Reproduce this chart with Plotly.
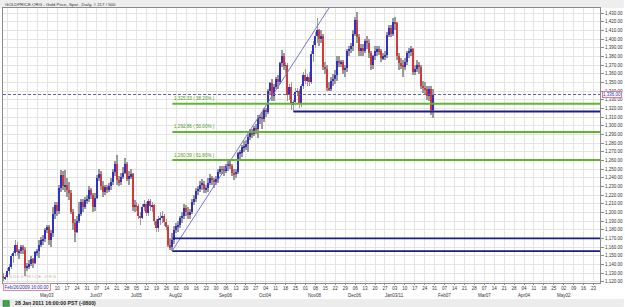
import pandas as pd
import plotly.graph_objects as go

# ---------------- data ----------------
title_text = "GOLDPRICE.ORG - Gold Price, Spot , Daily, # 217 / 500"
footer_text = "28 Jan 2011 16:00:00 PST (-0800)"
start_label = "Feb/26/2009 16:00:00"

opens = [
    1127, 1124, 1126, 1133, 1137, 1150, 1153, 1162, 1154, 1155, 1160, 1157, 1136, 1138, 1140, 1146, 1142, 1154, 1155, 1163, 1168, 1169,
    1180, 1183, 1168, 1176, 1198, 1208, 1202, 1228, 1243, 1230, 1232, 1226, 1222, 1200, 1188, 1178, 1190, 1198, 1212, 1206, 1214,
    1216, 1226, 1220, 1206, 1217, 1240, 1244, 1231, 1224, 1229, 1226, 1230, 1235, 1247, 1256, 1237, 1235, 1241, 1246, 1256, 1239, 1242,
    1244, 1206, 1209, 1207, 1196, 1194, 1206, 1210, 1199, 1213, 1207, 1208, 1190, 1182, 1192, 1194, 1196, 1189, 1183, 1162, 1160, 1168,
    1180, 1184, 1186, 1194, 1196, 1205, 1200, 1198, 1200, 1212, 1215, 1225, 1227, 1232, 1233, 1227, 1228, 1234, 1240, 1237, 1236, 1238,
    1247, 1250, 1249, 1248, 1253, 1256, 1254, 1246, 1244, 1247, 1268, 1268, 1275, 1276, 1279, 1287, 1292, 1290, 1297, 1296, 1309, 1309,
    1308, 1318, 1316, 1340, 1349, 1334, 1345, 1354, 1350, 1372, 1381, 1369, 1370, 1336, 1345, 1325, 1327, 1339, 1340, 1326, 1346,
    1358, 1352, 1356, 1350, 1383, 1393, 1404, 1410, 1400, 1404, 1368, 1366, 1344, 1342, 1352, 1354, 1358, 1375, 1372, 1373, 1364, 1367,
    1386, 1389, 1392, 1406, 1422, 1402, 1386, 1390, 1386, 1398, 1396, 1384, 1370, 1380, 1386, 1388, 1386, 1378, 1380, 1382, 1405, 1413, 1406,
    1420, 1418, 1380, 1372, 1370, 1368, 1374, 1384, 1386, 1388, 1362, 1366, 1370, 1368, 1346, 1344, 1342, 1334, 1342, 1318,
]
highs = [
    1130, 1128, 1136, 1140, 1152, 1156, 1168, 1166, 1158, 1163, 1162, 1160, 1142, 1145, 1150, 1148, 1156, 1158, 1168, 1172, 1174, 1182,
    1186, 1185, 1180, 1206, 1212, 1212, 1232, 1249, 1248, 1249, 1240, 1235, 1226, 1204, 1192, 1196, 1212, 1216, 1216, 1218, 1220,
    1230, 1228, 1222, 1222, 1243, 1250, 1248, 1236, 1232, 1232, 1234, 1240, 1250, 1259, 1266, 1242, 1246, 1252, 1263, 1258, 1248, 1250,
    1246, 1214, 1212, 1210, 1200, 1210, 1214, 1212, 1216, 1216, 1212, 1210, 1192, 1196, 1200, 1202, 1198, 1192, 1186, 1170, 1176, 1184,
    1188, 1190, 1196, 1200, 1210, 1208, 1206, 1204, 1216, 1220, 1228, 1230, 1236, 1238, 1236, 1232, 1240, 1244, 1242, 1240, 1242, 1250,
    1254, 1254, 1254, 1256, 1260, 1260, 1256, 1250, 1250, 1270, 1272, 1278, 1282, 1284, 1290, 1296, 1296, 1300, 1302, 1312, 1312, 1316,
    1320, 1320, 1342, 1350, 1354, 1348, 1356, 1358, 1374, 1387, 1384, 1374, 1372, 1348, 1350, 1330, 1344, 1344, 1342, 1348, 1362,
    1366, 1360, 1362, 1386, 1398, 1408, 1424, 1412, 1410, 1406, 1374, 1370, 1350, 1356, 1360, 1364, 1380, 1380, 1376, 1376, 1370, 1388,
    1392, 1396, 1410, 1425, 1431, 1406, 1394, 1394, 1400, 1404, 1400, 1386, 1382, 1392, 1392, 1392, 1388, 1384, 1386, 1408, 1416, 1416, 1424,
    1425, 1420, 1384, 1378, 1376, 1378, 1386, 1390, 1392, 1390, 1370, 1376, 1374, 1370, 1352, 1350, 1346, 1346, 1346, 1342,
]
lows = [
    1121, 1122, 1124, 1128, 1135, 1142, 1150, 1150, 1146, 1152, 1152, 1127, 1132, 1135, 1138, 1136, 1140, 1150, 1148, 1160, 1162, 1166,
    1176, 1163, 1160, 1172, 1192, 1196, 1198, 1224, 1226, 1224, 1218, 1214, 1198, 1180, 1166, 1176, 1188, 1196, 1200, 1204, 1210,
    1212, 1215, 1200, 1202, 1215, 1236, 1226, 1218, 1220, 1222, 1224, 1226, 1232, 1242, 1232, 1230, 1232, 1238, 1244, 1236, 1232, 1238,
    1202, 1200, 1202, 1192, 1186, 1192, 1202, 1196, 1196, 1202, 1200, 1186, 1178, 1178, 1186, 1188, 1184, 1180, 1160, 1157, 1155, 1164,
    1176, 1178, 1182, 1188, 1192, 1196, 1192, 1192, 1198, 1208, 1212, 1220, 1224, 1226, 1222, 1222, 1224, 1232, 1232, 1228, 1232, 1234,
    1244, 1244, 1242, 1246, 1248, 1250, 1242, 1237, 1240, 1244, 1262, 1264, 1270, 1272, 1270, 1284, 1286, 1288, 1290, 1286, 1302, 1296,
    1304, 1310, 1314, 1336, 1328, 1328, 1342, 1342, 1348, 1368, 1364, 1360, 1329, 1330, 1318, 1316, 1324, 1334, 1320, 1322, 1342,
    1348, 1346, 1346, 1348, 1374, 1390, 1396, 1392, 1396, 1364, 1360, 1340, 1340, 1340, 1346, 1348, 1352, 1368, 1368, 1360, 1356, 1362,
    1380, 1384, 1386, 1404, 1396, 1380, 1380, 1380, 1384, 1388, 1378, 1364, 1366, 1376, 1380, 1382, 1374, 1376, 1376, 1378, 1402, 1402, 1404,
    1410, 1376, 1364, 1366, 1356, 1364, 1370, 1378, 1380, 1358, 1358, 1362, 1360, 1342, 1338, 1336, 1330, 1328, 1312, 1309,
]
closes = [
    1124, 1126, 1133, 1137, 1150, 1153, 1162, 1154, 1155, 1160, 1157, 1136, 1138, 1140, 1146, 1142, 1154, 1155, 1163, 1168, 1169, 1180,
    1183, 1168, 1176, 1198, 1208, 1202, 1228, 1243, 1230, 1232, 1226, 1222, 1200, 1188, 1178, 1190, 1198, 1212, 1206, 1214, 1216,
    1226, 1220, 1206, 1217, 1240, 1244, 1231, 1224, 1229, 1226, 1230, 1235, 1247, 1256, 1237, 1235, 1241, 1246, 1256, 1239, 1242, 1244,
    1206, 1209, 1207, 1196, 1194, 1206, 1210, 1199, 1213, 1207, 1208, 1190, 1182, 1192, 1194, 1196, 1189, 1183, 1162, 1160, 1168, 1180,
    1184, 1186, 1194, 1196, 1205, 1200, 1198, 1200, 1212, 1215, 1225, 1227, 1232, 1233, 1227, 1228, 1234, 1240, 1237, 1236, 1238, 1247,
    1250, 1249, 1248, 1253, 1256, 1254, 1246, 1244, 1247, 1268, 1268, 1275, 1276, 1279, 1287, 1292, 1290, 1297, 1296, 1309, 1309, 1308,
    1318, 1316, 1340, 1349, 1334, 1345, 1354, 1350, 1372, 1381, 1369, 1370, 1336, 1345, 1325, 1327, 1339, 1340, 1326, 1346, 1358,
    1352, 1356, 1350, 1383, 1393, 1404, 1410, 1400, 1404, 1368, 1366, 1344, 1342, 1352, 1354, 1358, 1375, 1372, 1373, 1364, 1367, 1386,
    1389, 1392, 1406, 1422, 1402, 1386, 1390, 1386, 1398, 1396, 1384, 1370, 1380, 1386, 1388, 1386, 1378, 1380, 1382, 1405, 1413, 1406, 1420,
    1418, 1380, 1372, 1370, 1368, 1374, 1384, 1386, 1388, 1362, 1366, 1370, 1368, 1346, 1344, 1342, 1334, 1342, 1318, 1336,
]

# Fibonacci retracement levels and labels
fib_levels = [1325.33, 1292.86, 1260.39]
fib_labels = ["1,325.33 ( 38.20% )", "1,292.86 ( 50.00% )", "1,260.39 ( 61.80% )"]
fib_start = "2010-07-29"

# horizontal support lines (level, start date)
support_levels = [1316.4, 1170.0, 1155.26]
support_starts = ["2010-10-22", "2010-07-29", "2010-07-29"]

# trend line anchors
trend_dates = ["2010-07-29", "2010-11-18"]
trend_prices = [1156.0, 1440.0]

last_price = 1336.0
last_label = "1,336.00"

month_labels = ["May03", "Jun07", "Jul05", "Aug02", "Sep06", "Oct04", "Nov08",
                "Dec06", "Jan03/11", "Feb07", "Mar07", "Apr04", "May02"]
month_dates = ["2010-05-03", "2010-06-07", "2010-07-05", "2010-08-02", "2010-09-06",
               "2010-10-04", "2010-11-08", "2010-12-06", "2011-01-03", "2011-02-07",
               "2011-03-07", "2011-04-04", "2011-05-02"]
first_labelled_tick = "2010-05-03"   # earlier tick labels sit under the start box

# ---------------- axis (weekday index) ----------------
dates = pd.bdate_range("2010-04-01", "2011-05-31")
pos = {d.strftime("%Y-%m-%d"): i for i, d in enumerate(dates)}
n = len(closes)

tick_vals = [i for i, d in enumerate(dates) if d.weekday() == 0]
tick_text = [dates[i].strftime("%d") if i >= pos[first_labelled_tick] else "" for i in tick_vals]

FONT = "Liberation Sans, Arial, sans-serif"
UP = "#3030c4"
DOWN = "#cf3a3a"
WICK = "#9a9a9a"

fig = go.Figure()

# wicks (thin bars)
fig.add_trace(go.Bar(
    x=list(range(n)), base=lows, y=[h - l for h, l in zip(highs, lows)],
    width=0.4, marker=dict(color=WICK, line=dict(width=0)), hoverinfo="skip", showlegend=False))

# bodies
up_x, up_b, up_h, dn_x, dn_b, dn_h = [], [], [], [], [], []
for i in range(n):
    o, c = opens[i], closes[i]
    h = max(abs(c - o), 0.8)
    if c >= o:
        up_x.append(i); up_b.append(min(o, c)); up_h.append(h)
    else:
        dn_x.append(i); dn_b.append(min(o, c)); dn_h.append(h)
fig.add_trace(go.Bar(x=up_x, base=up_b, y=up_h, width=0.62,
                     marker=dict(color=UP, line=dict(width=0)), showlegend=False))
fig.add_trace(go.Bar(x=dn_x, base=dn_b, y=dn_h, width=0.62,
                     marker=dict(color=DOWN, line=dict(width=0)), showlegend=False))

# trend line
fig.add_trace(go.Scatter(x=[pos[d] for d in trend_dates], y=trend_prices, mode="lines",
                         line=dict(color="#7474d8", width=1), hoverinfo="skip", showlegend=False))

XMAX = 300.25
# fib lines
for lvl, lab in zip(fib_levels, fib_labels):
    fig.add_shape(type="line", xref="x", yref="y", x0=pos[fib_start], x1=XMAX, y0=lvl, y1=lvl,
                  line=dict(color="#62b52e", width=2))
    fig.add_annotation(x=pos[fib_start], y=lvl, xref="x", yref="y", text=lab, showarrow=False,
                       xanchor="left", yanchor="bottom", yshift=0.5,
                       font=dict(size=4.6, color="#4c9a20", family=FONT))

# support lines
for lvl, st in zip(support_levels, support_starts):
    fig.add_shape(type="line", xref="x", yref="y", x0=pos[st], x1=XMAX, y0=lvl, y1=lvl,
                  line=dict(color="#1d1d8a", width=1.8))

# last price dashed line + label
fig.add_shape(type="line", xref="paper", yref="y", x0=0, x1=1, y0=last_price, y1=last_price,
              line=dict(color="#6a5fa8", width=1, dash="3px,2px"))
fig.add_annotation(x=1, y=last_price, xref="paper", yref="y", text=last_label, showarrow=False,
                   xanchor="left", yanchor="middle", xshift=2, bgcolor="white",
                   bordercolor="#e07a9a", borderwidth=1, borderpad=0,
                   font=dict(size=4.5, color="#3030b0", family=FONT))

# month labels (second row under the day numbers)
for lab, d in zip(month_labels, month_dates):
    fig.add_annotation(x=pos[d], y=-0.046, xref="x", yref="paper", text=lab, showarrow=False,
                       xanchor="center", yanchor="middle", font=dict(size=4.5, color="#333", family=FONT))

# start label box
fig.add_annotation(x=0, y=-0.0135, xref="paper", yref="paper", text=start_label, showarrow=False,
                   xanchor="left", yanchor="middle", bgcolor="white", bordercolor="#e08a9a",
                   borderwidth=1, borderpad=0.5, font=dict(size=4.5, color="#2a2ab0", family=FONT))

# watermark
fig.add_annotation(x=0.006, y=0.006, xref="paper", yref="paper", text="G O L D P R I C E . O R G",
                   showarrow=False, xanchor="left", yanchor="bottom",
                   font=dict(size=4, color="#b4ac78", family=FONT))

# title strip and footer strip
fig.add_shape(type="rect", xref="paper", yref="paper", x0=-0.01, x1=1.04, y0=1.0, y1=1.03,
              fillcolor="#eeeeee", line=dict(width=0), layer="below")
fig.add_shape(type="rect", xref="paper", yref="paper", x0=-0.01, x1=1.04, y0=-0.058, y1=-0.09,
              fillcolor="#ececec", line=dict(width=0), layer="below")
fig.add_annotation(x=0.0, y=1.0145, xref="paper", yref="paper", text=title_text, showarrow=False,
                   xanchor="left", yanchor="middle", font=dict(size=4.4, color="#333", family=FONT))
fig.add_shape(type="rect", xref="paper", yref="paper", x0=0.0, x1=0.0105, y0=-0.085, y1=-0.064,
              fillcolor="#3aa84a", line=dict(color="#1e6e2a", width=0.6))
fig.add_annotation(x=0.017, y=-0.0745, xref="paper", yref="paper", text="<b>" + footer_text + "</b>",
                   showarrow=False, xanchor="left", yanchor="middle",
                   font=dict(size=5.2, color="#222", family=FONT))

fig.update_layout(
    width=625, height=307,
    margin=dict(l=2, r=22, t=8, b=24),
    paper_bgcolor="white", plot_bgcolor="white",
    barmode="overlay", bargap=0,
    showlegend=False,
    font=dict(family=FONT, size=4.5, color="#333"),
    xaxis=dict(range=[-0.25, XMAX], tickmode="array", tickvals=tick_vals, ticktext=tick_text,
               showgrid=True, gridcolor="#e4e4e4", gridwidth=1, zeroline=False,
               showline=True, linecolor="#8a8a8a", linewidth=1, mirror=True,
               ticks="outside", ticklen=1, tickcolor="#8a8a8a",
               tickfont=dict(size=4.5, color="#333"), tickangle=0, fixedrange=True),
    yaxis=dict(range=[1118.6, 1435.8], side="right", tick0=1120, dtick=10, tickformat=",.2f",
               showgrid=True, gridcolor="#e4e4e4", gridwidth=1, zeroline=False,
               showline=True, linecolor="#8a8a8a", linewidth=1, mirror=True,
               ticks="outside", ticklen=3, tickcolor="#8a8a8a",
               tickfont=dict(size=4.5, color="#333"), fixedrange=True),
)

fig.write_html("out.html")
